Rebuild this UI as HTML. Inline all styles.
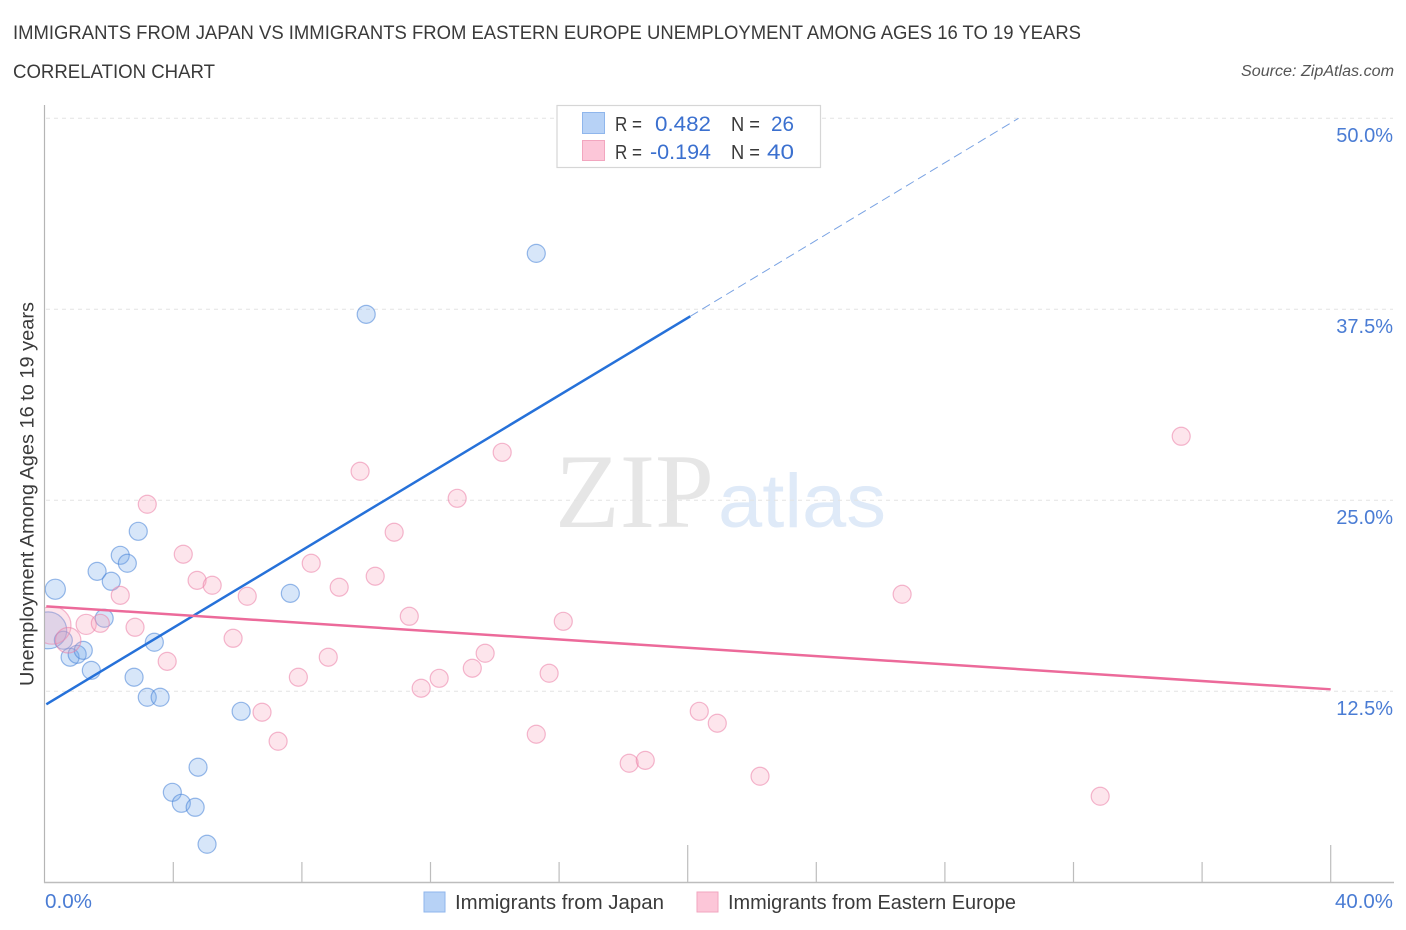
<!DOCTYPE html>
<html lang="en">
<head>
<meta charset="utf-8">
<title>Immigrants from Japan vs Immigrants from Eastern Europe Correlation Chart</title>
<style>
html,body{margin:0;padding:0;background:#fff;width:1406px;height:930px;overflow:hidden}
svg{display:block}
text{font-family:"Liberation Sans",sans-serif}
</style>
</head>
<body>
<svg id="chart" xmlns="http://www.w3.org/2000/svg" width="1406" height="930" viewBox="0 0 1406 930">
  <defs>
    <clipPath id="plot-clip"><rect x="45" y="100" width="1350" height="782"/></clipPath>
  </defs>
  <rect x="0" y="0" width="1406" height="930" fill="#fff"/>
  <text x="13" y="39" font-size="19" fill="#3a3a3a" textLength="1068" lengthAdjust="spacingAndGlyphs">IMMIGRANTS FROM JAPAN VS IMMIGRANTS FROM EASTERN EUROPE UNEMPLOYMENT AMONG AGES 16 TO 19 YEARS</text>
  <text x="13" y="78" font-size="19" fill="#3a3a3a" textLength="202" lengthAdjust="spacingAndGlyphs">CORRELATION CHART</text>
  <text x="1241" y="76" font-size="15.5" font-style="italic" fill="#555" textLength="153" lengthAdjust="spacingAndGlyphs">Source: ZipAtlas.com</text>

  <g>
    <text x="555" y="527" font-size="106" fill="#e6e6e6" style="font-family:'Liberation Serif',serif" textLength="159" lengthAdjust="spacingAndGlyphs">ZIP</text>
    <text x="718" y="527" font-size="76" fill="#dfeaf8" textLength="168" lengthAdjust="spacingAndGlyphs">atlas</text>
  </g>

  <g id="grid"></g>
  <g id="axes">
    <line x1="44.5" y1="105" x2="44.5" y2="883" stroke="#b5b5b5" stroke-width="1.2"/>
    <line x1="44" y1="882.5" x2="1394" y2="882.5" stroke="#bdbdbd" stroke-width="1.4"/>
  </g>
  <g id="xticks"></g>
  <g id="ylabels"></g>
  <text x="0" y="0" transform="translate(33.5,686) rotate(-90)" font-size="19" fill="#3a3a3a" textLength="384" lengthAdjust="spacingAndGlyphs">Unemployment Among Ages 16 to 19 years</text>
  <text x="45" y="908" font-size="20" fill="#4a7cd4" textLength="47" lengthAdjust="spacingAndGlyphs">0.0%</text>
  <text x="1335" y="908" font-size="20" fill="#4a7cd4" textLength="58" lengthAdjust="spacingAndGlyphs">40.0%</text>

  <g id="points" clip-path="url(#plot-clip)"></g>
  <g id="trends"></g>

  <g>
    <rect x="557" y="105.5" width="263.5" height="62" fill="#fff" stroke="#d6d6d6" stroke-width="1.2"/>
    <rect x="582.5" y="112.5" width="22" height="21" fill="#b7d2f6" stroke="#8fb6ec"/>
    <rect x="582.5" y="140.5" width="22" height="20" fill="#fcc6d8" stroke="#f2a6bf"/>
    <text x="615" y="131" font-size="20" fill="#3a3a3a" textLength="27" lengthAdjust="spacingAndGlyphs">R =</text>
    <text x="655" y="131" font-size="21" fill="#3b70cf" textLength="56" lengthAdjust="spacingAndGlyphs">0.482</text>
    <text x="731" y="131" font-size="20" fill="#3a3a3a" textLength="29" lengthAdjust="spacingAndGlyphs">N =</text>
    <text x="771" y="131" font-size="21" fill="#3b70cf" textLength="23" lengthAdjust="spacingAndGlyphs">26</text>
    <text x="615" y="159" font-size="20" fill="#3a3a3a" textLength="27" lengthAdjust="spacingAndGlyphs">R =</text>
    <text x="650" y="159" font-size="21" fill="#3b70cf" textLength="61" lengthAdjust="spacingAndGlyphs">-0.194</text>
    <text x="731" y="159" font-size="20" fill="#3a3a3a" textLength="29" lengthAdjust="spacingAndGlyphs">N =</text>
    <text x="767" y="159" font-size="21" fill="#3b70cf" textLength="27" lengthAdjust="spacingAndGlyphs">40</text>
  </g>

  <g>
    <g>
      <rect x="424" y="892" width="21" height="20" fill="#b7d2f6" stroke="#8fb6ec"/>
      <text x="455" y="909" font-size="20" fill="#3a3a3a" textLength="209" lengthAdjust="spacingAndGlyphs">Immigrants from Japan</text>
    </g>
    <g>
      <rect x="697" y="892" width="21" height="20" fill="#fcc6d8" stroke="#f2a6bf"/>
      <text x="728" y="909" font-size="20" fill="#3a3a3a" textLength="288" lengthAdjust="spacingAndGlyphs">Immigrants from Eastern Europe</text>
    </g>
  </g>
</svg>
<script>
var yTickValues = [12.5, 25, 37.5, 50];
var yTickLabels = ['12.5%', '25.0%', '37.5%', '50.0%'];
var xTickValues = [4, 8, 12, 16, 20, 24, 28, 32, 36, 40];
var xMajorTicks = [20, 40];

var japanX = [0.33, 0.11, 0.58, 0.79, 1.01, 1.20, 1.45, 1.85, 1.63, 2.07, 2.35, 2.57, 2.91, 2.78, 3.19, 3.59, 3.41, 6.11, 4.77, 3.97, 4.25, 4.68, 5.05, 7.64, 10.0, 15.29];
var japanY = [19.18, 16.49, 15.84, 14.73, 14.92, 15.18, 13.87, 17.28, 20.35, 19.70, 21.40, 20.88, 22.97, 13.42, 12.11, 12.11, 15.71, 11.19, 7.53, 5.89, 5.17, 4.91, 2.49, 18.91, 37.17, 41.16];
var japanWeight = [1.25, 4.2, 1, 1, 1, 1, 1, 1, 1, 1, 1, 1, 1, 1, 1, 1, 1, 1, 1, 1, 1, 1, 1, 1, 1, 1];

var europeX = [0.23, 0.73, 1.29, 1.73, 2.35, 2.81, 3.19, 3.81, 4.31, 4.74, 5.21, 5.86, 6.30, 6.76, 7.26, 7.89, 8.29, 8.82, 9.16, 9.81, 10.28, 10.87, 11.34, 11.71, 12.27, 12.83, 13.30, 13.70, 14.23, 15.29, 15.69, 16.13, 18.18, 18.68, 20.36, 20.92, 22.25, 26.67, 32.83, 35.35];
var europeY = [16.82, 15.84, 16.88, 16.95, 18.78, 16.69, 24.74, 14.46, 21.47, 19.76, 19.44, 15.97, 18.72, 11.13, 9.23, 13.42, 20.88, 14.73, 19.31, 26.90, 20.03, 22.91, 17.41, 12.70, 13.35, 25.13, 14.01, 14.99, 28.14, 9.69, 13.68, 17.08, 7.79, 7.98, 11.19, 10.41, 6.94, 18.85, 5.63, 29.19];
var europeWeight = [4.4, 2, 1.25, 1, 1, 1, 1, 1, 1, 1, 1, 1, 1, 1, 1, 1, 1, 1, 1, 1, 1, 1, 1, 1, 1, 1, 1, 1, 1, 1, 1, 1, 1, 1, 1, 1, 1, 1, 1, 1];

var japanTrendX = [0.05, 20.08];
var japanTrendY = [11.65, 37.04];
var japanProjectionX = [20.08, 30.29];
var japanProjectionY = [37.04, 50];
var europeTrendX = [0.05, 40];
var europeTrendY = [18.06, 12.63];

var NS = 'http://www.w3.org/2000/svg';
function xScale(v) { return 44.7 + v * 32.15; }
function yScale(v) { return 882.3 - v * 15.28; }
function rScale(w) { return 9 * Math.sqrt(w); }
function make(parent, tag, attrs) {
  var el = document.createElementNS(NS, tag);
  Object.keys(attrs).forEach(function (k) { el.setAttribute(k, attrs[k]); });
  document.getElementById(parent).appendChild(el);
  return el;
}

yTickValues.forEach(function (v, i) {
  var grid = make('grid', 'line', { x1: 46, x2: 1393, y1: yScale(v), y2: yScale(v), stroke: '#e4e4e4', 'stroke-width': 1, 'stroke-dasharray': '4 4' });
  
  
  var label = make('ylabels', 'text', { x: 1393, y: yScale(v) + 23.5, 'text-anchor': 'end', 'font-size': 20, fill: '#4a7cd4' });
  label.textContent = yTickLabels[i];
  
  
});

xTickValues.forEach(function (v) {
  var top = xMajorTicks.indexOf(v) >= 0 ? 845 : 862;
  var tick = make('xticks', 'line', { x1: xScale(v), x2: xScale(v), y1: top, y2: 882, stroke: '#bdbdbd', 'stroke-width': 1.2 });
  
  
});

japanX.forEach(function (v, i) {
  var dot = make('points', 'circle', { cx: xScale(v), cy: yScale(japanY[i]), r: rScale(japanWeight[i]), fill: 'rgba(110,165,235,0.28)', stroke: 'rgba(70,130,215,0.55)', 'stroke-width': 1.2 });
  
  
});

europeX.forEach(function (v, i) {
  var dot = make('points', 'circle', { cx: xScale(v), cy: yScale(europeY[i]), r: rScale(europeWeight[i]), fill: 'rgba(248,160,188,0.28)', stroke: 'rgba(235,125,165,0.55)', 'stroke-width': 1.2 });
  
  
});

var projection = make('trends', 'line', { x1: xScale(japanProjectionX[0]), y1: yScale(japanProjectionY[0]), x2: xScale(japanProjectionX[1]), y2: yScale(japanProjectionY[1]), stroke: '#7aa3e3', 'stroke-width': 1, 'stroke-dasharray': '9 5' });



var trendJapan = make('trends', 'line', { x1: xScale(japanTrendX[0]), y1: yScale(japanTrendY[0]), x2: xScale(japanTrendX[1]), y2: yScale(japanTrendY[1]), stroke: '#2671d9', 'stroke-width': 2.5 });



var trendEurope = make('trends', 'line', { x1: xScale(europeTrendX[0]), y1: yScale(europeTrendY[0]), x2: xScale(europeTrendX[1]), y2: yScale(europeTrendY[1]), stroke: '#ec6a9a', 'stroke-width': 2.5 });


</script>
</body>
</html>
